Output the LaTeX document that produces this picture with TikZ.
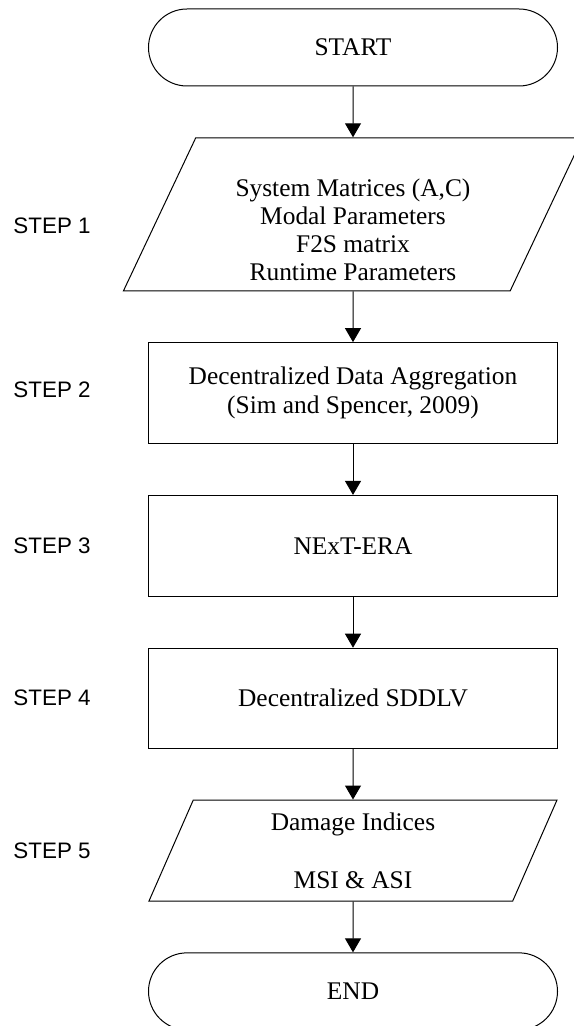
\documentclass[tikz,border=0pt]{standalone}
\usepackage{fontspec}
\setmainfont{Liberation Serif}
\setsansfont{Liberation Sans}
\usetikzlibrary{positioning,shapes.geometric,arrows.meta}

\begin{document}
\begin{tikzpicture}[node distance=25.4pt, line width=0.5pt,
    every node/.style={font=\fontsize{12.7}{14.5}\selectfont},
    term/.style={draw, rounded corners=19.25pt, minimum width=204.5pt, minimum height=38.5pt},
    proc/.style={draw, minimum width=204.5pt, minimum height=50.5pt, align=center},
    io/.style={draw, trapezium, trapezium left angle=63.6, trapezium right angle=116.4,
      trapezium stretches body, align=center},
    steplbl/.style={font=\sffamily\fontsize{11.2}{13}\selectfont, anchor=west, inner sep=0pt},
    >={Triangle[length=7pt,width=8pt]}]
    \useasboundingbox (-176.5pt,23.75pt) rectangle (110pt,-489.25pt);
    \node[term] (start) {START};
    \node[io, minimum width=229.5pt, minimum height=76.5pt, font=\fontsize{12.7}{14}\selectfont, below=of start] (input)
      {\rule{0pt}{24pt}System Matrices (A,C)\\Modal Parameters\\F2S matrix\\Runtime Parameters};
    \node[proc, below=of input] (agg) {Decentralized Data Aggregation\\(Sim and Spencer, 2009)};
    \node[proc, below=of agg] (era) {NExT-ERA};
    \node[proc, minimum height=50pt, below=of era] (sddlv) {Decentralized SDDLV};
    \node[io, minimum width=204pt, minimum height=50.5pt, below=of sddlv] (dmg) {Damage Indices\\[14.5pt]MSI \& ASI};
    \node[term, below=of dmg] (end) {END};
    \draw[->] (start) -- (input);
    \draw[->] (input) -- (agg);
    \draw[->] (agg) -- (era);
    \draw[->] (era) -- (sddlv);
    \draw[->] (sddlv) -- (dmg);
    \draw[->] (dmg) -- (end);
    \coordinate (lft) at (-170pt,0);
    \node[steplbl, yshift=-5.75pt] (s1) at (lft |- input) {STEP 1};
    \node[steplbl, yshift=1.5pt] (s2) at (lft |- agg) {STEP 2};
    \node[steplbl] (s3) at (lft |- era) {STEP 3};
    \node[steplbl] (s4) at (lft |- sddlv) {STEP 4};
    \node[steplbl] (s5) at (lft |- dmg) {STEP 5};
\end{tikzpicture}
\end{document}
